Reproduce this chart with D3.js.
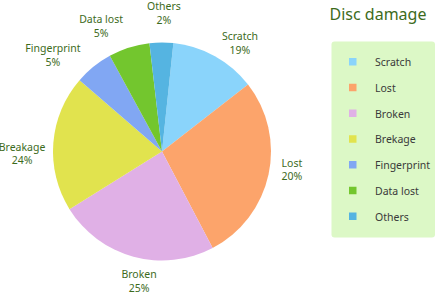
<!DOCTYPE html>
<html>
<head>
<meta charset="utf-8">
<script src="https://cdn.jsdelivr.net/npm/d3@7"></script>
<style>
html,body{margin:0;padding:0;background:#fff;}
svg{display:block;}
text{font-family:"Noto Sans","Open Sans",sans-serif;}
</style>
</head>
<body>
<svg id="chart" width="436" height="293"></svg>
<script>
// ---- data ----
const categories = ["Scratch","Lost","Broken","Brekage","Fingerprint","Data lost","Others"];
const labelNames = ["Scratch","Lost","Broken","Breakage","Fingerprint","Data lost","Others"];
const sliceValues = [12.8, 27.8, 23.8, 20.2, 5.7, 6.1, 3.5];
const labelPercents = ["19%","20%","25%","24%","5%","5%","2%"];
const colors = ["#8ad4fb","#fca46b","#e0b0e6","#e1e34e","#81a7f3","#73c62e","#55b4e1"];
const title = "Disc damage";

// ---- layout ----
const W = 436, H = 293;
const cx = 162, cy = 151.5, R = 109;
const startDeg = 6;
const labelAngleDeg = [35.7, 97.9, 190, 269, 311.5, 334.1, 0.8];
const labelRadius = [133.6, 131.2, 132.0, 140, 145.6, 139.5, 138.5];
const textGreen = "#3d6b1c";

const svg = d3.select("#chart");
const rad = d => d * Math.PI / 180;

const pie = d3.pie().sort(null).value(d => d)
  .startAngle(rad(startDeg)).endAngle(rad(startDeg) + 2 * Math.PI);
const arcs = pie(sliceValues);
const arc = d3.arc().innerRadius(0).outerRadius(R);

const g = svg.append("g").attr("transform", `translate(${cx},${cy})`);
g.selectAll("path").data(arcs).join("path")
  .attr("d", arc)
  .attr("fill", (d, i) => colors[i]);

// labels
const lab = g.selectAll("g.lab").data(arcs).join("g").attr("class", "lab")
  .attr("transform", (d, i) => {
    const a = rad(labelAngleDeg[i]);
    return `translate(${Math.sin(a) * labelRadius[i]},${-Math.cos(a) * labelRadius[i]})`;
  });
lab.append("text").attr("text-anchor", "middle").attr("y", -3)
  .attr("font-size", 10.5).attr("fill", textGreen)
  .text((d, i) => labelNames[i]);
lab.append("text").attr("text-anchor", "middle").attr("y", 10.5)
  .attr("font-size", 10.5).attr("fill", textGreen)
  .text((d, i) => labelPercents[i]);

// title
svg.append("text").attr("x", 378).attr("y", 20).attr("text-anchor", "middle")
  .attr("font-size", 16).attr("fill", textGreen).text(title);

// legend
const lx = 331.5, ly = 41.5, lw = 103.5, lh = 196;
svg.append("rect").attr("x", lx).attr("y", ly).attr("width", lw).attr("height", lh)
  .attr("rx", 3).attr("fill", "#dcf8c6");
const ys = d3.scalePoint().domain(categories).range([58, 212.5]);
const li = svg.selectAll("g.leg").data(categories).join("g").attr("class", "leg")
  .attr("transform", d => `translate(0,${ys(d)})`);
li.append("rect").attr("x", 349).attr("y", 0).attr("width", 7.5).attr("height", 7.5)
  .attr("fill", (d, i) => colors[i]);
li.append("text").attr("x", 375).attr("y", 8).attr("font-size", 10.5)
  .attr("fill", "#3a3a3a").text(d => d);
</script>
</body>
</html>
